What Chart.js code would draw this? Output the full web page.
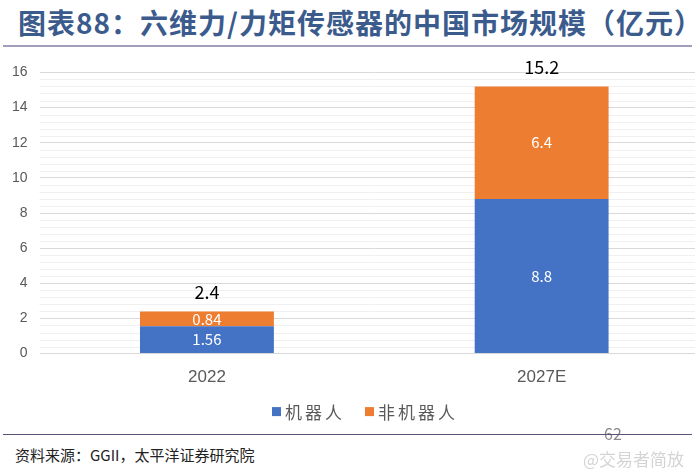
<!DOCTYPE html>
<html>
<head>
<meta charset="utf-8">
<script src="https://cdn.jsdelivr.net/npm/chart.js@4/dist/chart.umd.min.js"></script>
<style>
  html, body { margin: 0; padding: 0; background: #fff; overflow: hidden; }
  body { width: 695px; height: 474px; position: relative; font-family: "Noto Sans CJK SC", sans-serif; }
  #title { position: absolute; left: 18px; top: 2px; font-size: 28px; font-weight: bold; color: #3B5B8D; white-space: nowrap; letter-spacing: 1px; }
  #topLine { position: absolute; left: 3px; width: 689px; top: 45px; height: 2px; background: #A19DBA; }
  #chartBox { position: absolute; left: -2px; top: 52px; width: 711px; height: 375px; }
  #bottomLine { position: absolute; left: 3px; width: 689px; top: 434px; height: 1px; background: #5E5078; }
  #source { position: absolute; left: 15px; top: 444px; font-size: 15px; color: #222; white-space: nowrap; }
  #pageNo { position: absolute; left: 604px; top: 421px; font-size: 16px; color: #8a8a8a; }
  #mark { position: absolute; left: 583px; top: 446px; font-size: 17px; color: #d4d4d4; white-space: nowrap; }
</style>
</head>
<body>
<div id="title">图表88：六维力/力矩传感器的中国市场规模（亿元）</div>
<div id="topLine"></div>
<div id="chartBox"><canvas id="marketChart"></canvas></div>
<div id="pageNo">62</div>
<div id="bottomLine"></div>
<div id="source">资料来源：GGII，太平洋证券研究院</div>
<div id="mark">@交易者简放</div>

<script>
// ========== Data ==========
const years = ['2022', '2027E'];
const robotValues = [1.56, 8.8];
const nonRobotValues = [0.84, 6.4];
const seriesNames = ['机器人', '非机器人'];
const yTicks = [0, 2, 4, 6, 8, 10, 12, 14, 16];
const minorStep = 0.4;

const blue = '#4472C4';
const orange = '#ED7D31';
const labelFont = '"Noto Sans CJK SC", sans-serif';

// ========== Minor grid plugin ==========
const minorGrid = {
  id: 'minorGrid',
  beforeDatasetsDraw(chart) {
    const { ctx, chartArea, scales } = chart;
    const y = scales.y;
    ctx.save();
    ctx.strokeStyle = '#F0F0F0';
    ctx.lineWidth = 1;
    for (let k = 0; k < yTicks.length - 1; k++) {
      for (let m = 1; m < 5; m++) {
        const py = Math.round(y.getPixelForValue(yTicks[k] + m * minorStep)) + 0.5;
        ctx.beginPath();
        ctx.moveTo(chartArea.left, py);
        ctx.lineTo(chartArea.right, py);
        ctx.stroke();
      }
    }
    ctx.restore();
  }
};

// ========== Labels plugin ==========
const barLabels = {
  id: 'barLabels',
  afterDatasetsDraw(chart) {
    const ctx = chart.ctx;
    ctx.save();
    ctx.textAlign = 'center';
    ctx.textBaseline = 'middle';
    chart.data.datasets.forEach((ds, i) => {
      chart.getDatasetMeta(i).data.forEach((bar, j) => {
        ctx.fillStyle = '#ffffff';
        ctx.font = '15px ' + labelFont;
        ctx.fillText(String(ds.data[j]), bar.x, (bar.y + bar.base) / 2);
      });
    });
    // totals above the stack
    const lastMeta = chart.getDatasetMeta(chart.data.datasets.length - 1);
    lastMeta.data.forEach((bar, j) => {
      const total = Math.round((robotValues[j] + nonRobotValues[j]) * 100) / 100;
      ctx.fillStyle = '#000000';
      ctx.font = '18px ' + labelFont;
      ctx.fillText(String(total), bar.x, bar.y - 19);
    });
    ctx.restore();
  }
};

// ========== Legend (spaced CJK text) ==========
const spacedLegend = {
  id: 'spacedLegend',
  afterDraw(chart) {
    const ctx = chart.ctx;
    const ds = chart.data.datasets;
    const box = 9, gapBox = 4, gapItem = 20;
    ctx.save();
    ctx.font = '17px ' + labelFont;
    ctx.letterSpacing = '3px';
    ctx.textBaseline = 'middle';
    const widths = ds.map(d => box + gapBox + ctx.measureText(d.label).width);
    const total = widths.reduce((a, b) => a + b, 0) + gapItem * (ds.length - 1);
    let x = 367 - total / 2;
    const y = chart.chartArea.bottom + 58;
    ds.forEach((d, i) => {
      ctx.fillStyle = d.backgroundColor;
      ctx.fillRect(x, y - box / 2, box, box);
      ctx.fillStyle = '#595959';
      ctx.fillText(d.label, x + box + gapBox, y + 1);
      x += widths[i] + gapItem;
    });
    ctx.restore();
  }
};

// ========== Chart ==========
new Chart(document.getElementById('marketChart'), {
  type: 'bar',
  data: {
    labels: years,
    datasets: [
      { label: seriesNames[0], data: robotValues, backgroundColor: blue, barPercentage: 0.4, categoryPercentage: 1 },
      { label: seriesNames[1], data: nonRobotValues, backgroundColor: orange, barPercentage: 0.4, categoryPercentage: 1 }
    ]
  },
  options: {
    responsive: true,
    maintainAspectRatio: false,
    animation: false,
    layout: { padding: { top: 19, left: 2, right: 0, bottom: 33 } },
    plugins: {
      legend: { display: false },
      tooltip: { enabled: false }
    },
    scales: {
      x: {
        stacked: true,
        grid: { display: false },
        border: { display: false },
        ticks: { color: '#595959', padding: 6, font: { size: 17, family: '"Liberation Sans", Arial, sans-serif' } }
      },
      y: {
        stacked: true,
        min: 0, max: 16,
        afterBuildTicks: axis => { axis.ticks = yTicks.map(v => ({ value: v })); },
        ticks: { color: '#595959', padding: 12, font: { size: 14, family: '"Liberation Sans", Arial, sans-serif' } },
        border: { display: false },
        grid: { drawTicks: false, color: '#D9D9D9', lineWidth: 1 }
      }
    }
  },
  plugins: [minorGrid, barLabels, spacedLegend]
});
</script>
</body>
</html>
